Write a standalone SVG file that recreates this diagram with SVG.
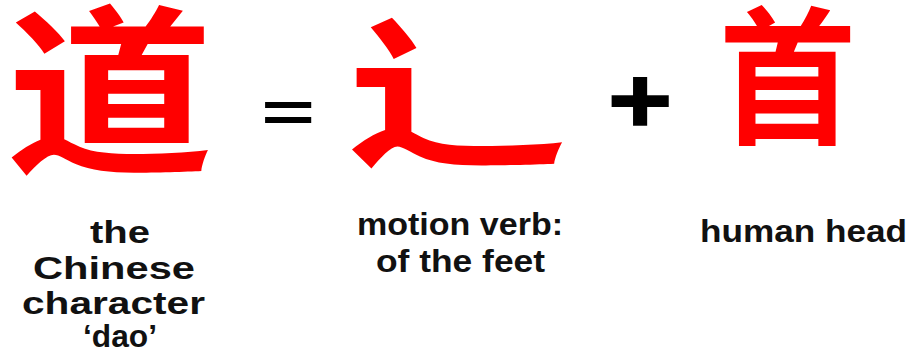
<svg xmlns="http://www.w3.org/2000/svg" width="912" height="356" viewBox="0 0 912 356">
<style>
.cjk{font-family:"Noto Sans CJK SC","Noto Sans CJK TC",sans-serif;font-weight:700;fill:#ff0000;text-anchor:middle}
.op{font-family:"Liberation Sans",Arial,sans-serif;font-weight:700;fill:#000;text-anchor:middle}
.lbl{font-family:"Liberation Sans",Arial,sans-serif;font-weight:700;fill:#111;font-size:31px}
.lbl2{font-family:"Liberation Sans",Arial,sans-serif;font-weight:700;fill:#111;font-size:32px}
</style>
<rect width="912" height="356" fill="#fff"/>
<g id="dao">
<text class="cjk" font-size="180" transform="translate(110,158) scale(1.15,1)">道</text>
<text class="lbl" x="90" y="243" textLength="60" lengthAdjust="spacingAndGlyphs">the</text>
<text class="lbl" x="33" y="279" textLength="162" lengthAdjust="spacingAndGlyphs">Chinese</text>
<text class="lbl" x="22" y="314" textLength="183" lengthAdjust="spacingAndGlyphs">character</text>
<text class="lbl" x="83" y="347" textLength="74" lengthAdjust="spacingAndGlyphs">‘dao’</text>
</g>
<g id="equals">
<text class="op" font-size="92" transform="translate(288,131) scale(1,0.6)">=</text>
</g>
<g id="chuo">
<text class="cjk" font-size="166" transform="translate(457,154) scale(1.33,1)">辶</text>
<text class="lbl2" x="357" y="235" textLength="206" lengthAdjust="spacingAndGlyphs">motion verb:</text>
<text class="lbl2" x="376" y="272" textLength="169" lengthAdjust="spacingAndGlyphs">of the feet</text>
</g>
<g id="plus">
<text class="op" font-size="110" stroke="#000" stroke-width="2" transform="translate(640,132) scale(1,0.85)">+</text>
</g>
<g id="shou">
<text class="cjk" font-size="148" transform="translate(787.5,132) scale(0.93,1)">首</text>
<text class="lbl2" x="700" y="242" textLength="207" lengthAdjust="spacingAndGlyphs">human head</text>
</g>
</svg>
